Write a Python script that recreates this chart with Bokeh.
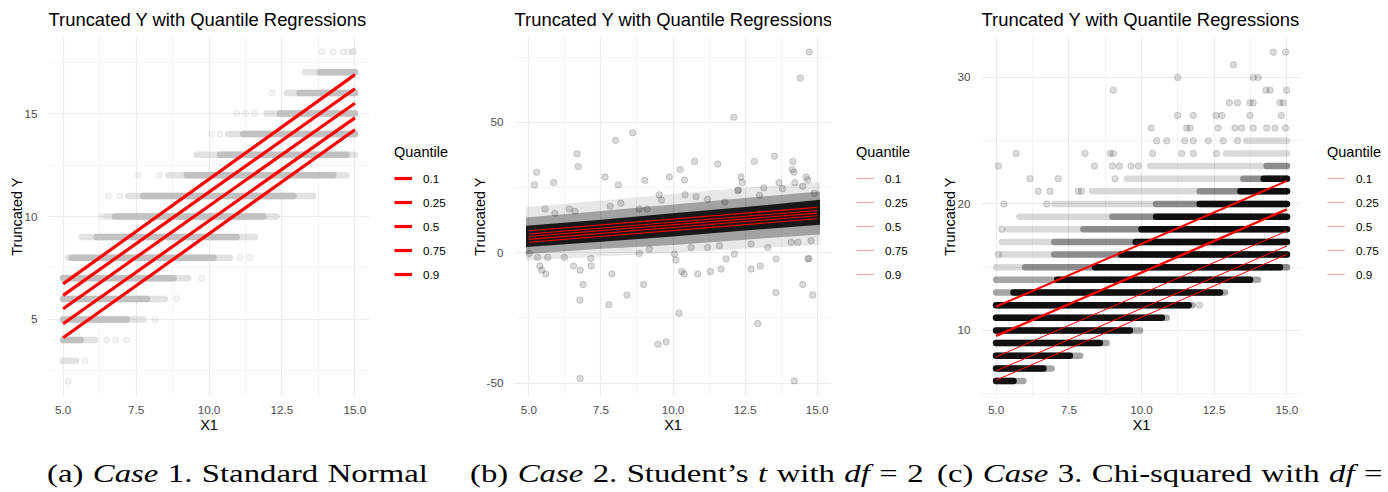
from bokeh.plotting import figure
from bokeh.models import (Range1d, FixedTicker, PrintfTickFormatter, Legend,
                          LegendItem, Div)
from bokeh.layouts import row, column
from bokeh.embed import file_html
from bokeh.resources import INLINE

FONT = "Liberation Sans"
TITLE = "Truncated Y with Quantile Regressions"
QUANTILES = ["0.1", "0.25", "0.5", "0.75", "0.9"]
X_ENDS = [5.0, 15.0]
X_TICKS = [5.0, 7.5, 10.0, 12.5, 15.0]
X_MINOR = [6.25, 8.75, 11.25, 13.75]

# ---------------- Case 1: standard normal errors ----------------
# fitted quantile lines, value at X1 = 5 and X1 = 15
a_q_at5 = [4.11, 4.79, 5.52, 6.17, 6.73]
a_q_at15 = [14.21, 14.79, 15.50, 16.20, 16.89]
# integer-valued Y: extent of the point run on each level (outer) and its dense core
a_level = [17, 16, 15, 14, 13, 12, 11, 10, 9, 8, 7, 6, 5, 4, 3]
a_run_lo = [13.30, 12.66, 11.97, 10.66, 9.58, 8.61, 7.24, 6.50, 5.64, 5.18, 5.00, 5.00, 5.00, 5.00, 5.00]
a_run_hi = [15.00, 15.00, 15.00, 15.00, 15.00, 14.71, 13.57, 12.32, 11.58, 10.72, 9.29, 8.49, 7.75, 6.10, 5.45]
a_core_level = [17, 16, 15, 14, 13, 12, 11, 10, 9, 8, 7, 6, 5, 4]
a_core_lo = [13.80, 13.10, 12.43, 11.17, 10.38, 9.24, 7.75, 6.78, 6.15, 5.30, 5.00, 5.00, 5.00, 5.00]
a_core_hi = [15.00, 15.00, 15.00, 15.00, 14.71, 14.26, 12.89, 11.86, 10.95, 10.15, 8.78, 7.87, 7.18, 5.60]
# isolated observations
a_pt_x = [13.87, 14.25, 14.59, 14.76, 14.93, 14.93, 12.15, 10.95, 11.25, 11.57, 10.09, 10.38,
          7.58, 8.30, 6.55, 6.95, 6.32, 11.06, 11.40, 9.75, 8.89, 8.15, 6.50, 6.80, 7.18, 5.75, 5.18]
a_pt_y = [18, 18, 18, 18, 18, 18, 16, 15, 15, 15, 14, 14,
          12, 12, 11, 11, 10, 8, 8, 7, 6, 5, 4, 4, 4, 3, 2]

# ---------------- Case 2: Student's t (df = 2) errors ----------------
b_q_at5 = [4.0, 5.1, 6.2, 7.2, 8.4]
b_q_at15 = [13.0, 14.2, 15.2, 16.2, 17.4]
# bulk of the cloud around the fitted lines
b_knot_x = [4.9, 7.5, 10.0, 12.5, 15.1]
b_core_lo = [2.2, 4.2, 6.2, 8.5, 10.7]
b_core_hi = [10.3, 12.6, 15.1, 17.5, 20.3]
b_mid_lo = [-0.5, 1.5, 3.0, 5.0, 7.0]
b_mid_hi = [13.5, 16.0, 18.5, 21.0, 23.5]
b_outer_lo = [-3.0, -1.5, 0.0, 1.5, 3.0]
b_outer_hi = [17.5, 20.0, 22.5, 25.0, 27.0]
# heavy-tailed observations away from the bulk
b_pt_x = [14.73, 14.42, 12.11, 8.60, 8.01, 6.67, 6.71, 5.27, 5.19, 5.86, 7.64, 8.10, 9.02,
          9.87, 10.25, 10.40, 10.75, 11.55, 12.27, 12.36, 12.40, 12.82, 13.15, 13.52, 13.68,
          14.16, 14.14, 14.20, 14.68, 14.23, 14.62, 14.90, 10.42, 9.52, 9.60, 12.25, 7.82,
          8.19, 5.56, 5.90, 6.40, 6.60, 8.83, 9.10, 13.80, 14.50, 13.00, 11.20, 10.80, 11.80,
          5.01, 5.30, 5.65, 5.38, 5.45, 5.59, 6.23, 6.55, 6.78, 6.88, 6.77, 7.16, 7.15, 7.77,
          7.88, 8.40, 8.98, 8.83, 9.18, 9.48, 9.76, 10.21, 10.05, 10.10, 10.30, 10.39, 10.86,
          11.30, 11.67, 11.84, 12.13, 12.71, 13.03, 12.94, 13.57, 13.58, 14.50, 14.85, 14.72,
          14.68, 6.78, 14.21, 11.61, 11.20, 10.63, 12.71, 13.29, 14.10, 14.33, 14.79]
b_pt_y = [77.0, 67.0, 52.0, 46.0, 43.1, 38.0, 33.1, 30.9, 26.0, 26.9, 29.0, 26.0, 27.8,
          29.0, 31.9, 27.9, 35.0, 34.0, 24.1, 29.0, 26.9, 35.0, 24.9, 37.0, 26.9,
          35.0, 31.9, 30.9, 27.9, 26.9, 29.0, 22.8, 22.2, 22.2, 20.2, 23.8, 17.8,
          19.0, 16.8, 15.1, 16.8, 15.9, 16.8, 16.8, 24.5, 25.5, 22.0, 20.5, 21.5, 19.5,
          -0.3, -1.8, -1.8, -5.1, -6.7, -8.2, -1.8, -5.1, -6.7, -12.2, -18.2, -5.1, -2.2, -20.0,
          -8.2, -16.2, -12.2, -0.3, 1.4, -35.1, -34.2, -23.2, -0.5, -2.8, -7.2, -8.2, -8.2,
          -7.3, -6.3, -2.4, -0.5, -6.3, -5.1, -27.2, -15.3, -2.4, -12.2, -16.2, -2.2,
          -2.4, -48.3, -49.2, 2.7, 2.0, 2.0, 3.3, 2.0, 4.0, 4.0, 4.6]

# ---------------- Case 3: chi-squared (df = 3) errors ----------------
c_q_at5 = [6.07, 6.80, 7.91, 9.57, 11.88]
c_q_at15 = [16.02, 16.68, 17.87, 19.58, 21.82]
# sparse part of each level
c_light_level = [15, 16, 17, 18, 19, 20, 21, 22, 23, 24, 25]
c_light_lo = [5.0, 5.2, 5.2, 5.4, 5.8, 7.0, 8.3, 9.5, 10.3, 12.9, 13.6]
c_light_hi = [15.0, 15.0, 15.0, 15.0, 15.0, 15.0, 15.0, 15.0, 15.0, 15.0, 15.0]
# moderately dense part
c_mid_level = [6, 7, 8, 9, 10, 11, 12, 13, 14, 15, 16, 17, 18, 19, 20, 21, 22, 23]
c_mid_lo = [5.0, 5.0, 5.0, 5.0, 5.0, 5.0, 5.0, 5.0, 5.0, 6.0, 7.0, 7.0, 8.0, 9.0, 10.5, 12.0, 13.5, 14.3]
c_mid_hi = [5.94, 6.91, 7.89, 8.80, 9.95, 10.87, 11.75, 12.87, 14.0, 15.0, 15.0, 15.0, 15.0, 15.0, 15.0, 15.0, 15.0, 15.0]
# saturated part
c_dark_level = [6, 7, 8, 9, 10, 11, 12, 13, 14, 15, 16, 17, 18, 19, 20, 21, 22]
c_dark_lo = [5.0, 5.0, 5.0, 5.0, 5.0, 5.0, 5.0, 5.6, 7.1, 8.4, 9.3, 9.8, 10.0, 10.5, 12.0, 13.4, 14.2]
c_dark_hi = [5.60, 6.63, 7.54, 8.57, 9.60, 10.70, 11.62, 12.70, 13.73, 14.76, 15.0, 15.0, 15.0, 15.0, 15.0, 15.0, 15.0]
# isolated observations
c_pt_x = [14.53, 14.95, 13.16, 11.24, 13.84, 14.01, 9.03, 14.28, 14.42, 14.99,
          13.02, 13.30, 13.73, 13.84, 14.76, 14.87, 11.24, 11.78, 12.56, 12.76, 13.73, 14.80,
          10.33, 11.55, 11.67, 12.64, 13.21, 13.44, 13.84, 14.30, 14.59, 14.95,
          10.52, 10.87, 11.49, 11.78, 12.30, 12.81, 13.30,
          5.69, 8.06, 8.92, 9.03, 10.38, 11.38, 11.78, 12.58,
          5.08, 8.38, 9.00, 9.24, 9.64, 9.89, 6.17, 7.14, 9.09,
          6.45, 6.86, 7.83, 7.94, 5.27, 6.74, 11.99, 5.08, 5.20]
c_pt_y = [32, 32, 31, 30, 30, 30, 29, 29, 29, 29,
          28, 28, 28, 28, 28, 28, 27, 27, 27, 27, 27, 27,
          26, 26, 26, 26, 26, 26, 26, 26, 26, 26,
          25, 25, 25, 25, 25, 25, 25,
          24, 24, 24, 24, 24, 24, 24, 24,
          23, 23, 23, 23, 23, 23, 22, 22, 22,
          21, 21, 21, 21, 20, 20, 12, 16, 18]

CAPTIONS = ["(a) <i>Case</i> 1. Standard Normal",
            "(b) <i>Case</i> 2. Student\u2019s <i>t</i> with <i>df</i> = 2",
            "(c) <i>Case</i> 3. Chi-squared with <i>df</i> = 3"]
CAPTION_LEFT = [47, 470, 937]

DOT = 6.5
FIG_H = 440


def base_panel(y_lo, y_hi, y_ticks, y_minor, left, frame_w):
    p = figure(width=left + frame_w, height=FIG_H,
               min_border_left=left, min_border_right=0,
               min_border_top=36, min_border_bottom=44,
               x_range=Range1d(4.5, 15.5), y_range=Range1d(y_lo, y_hi),
               output_backend="svg", toolbar_location=None, title=TITLE)
    p.outline_line_color = None
    p.background_fill_color = "white"
    p.border_fill_color = "white"
    p.title.text_font = FONT
    p.title.text_font_size = "18.4px"
    p.title.text_font_style = "normal"
    p.title.text_color = "black"
    p.title.align = "left"
    p.title.standoff = 13

    p.xaxis.ticker = FixedTicker(ticks=X_TICKS, minor_ticks=X_MINOR)
    p.xaxis.formatter = PrintfTickFormatter(format="%.1f")
    p.yaxis.ticker = FixedTicker(ticks=y_ticks, minor_ticks=y_minor)
    p.yaxis.formatter = PrintfTickFormatter(format="%d")
    p.xaxis.axis_label = "X1"
    p.yaxis.axis_label = "Truncated Y"
    for ax in (p.xaxis, p.yaxis):
        ax.axis_line_color = None
        ax.major_tick_line_color = None
        ax.minor_tick_line_color = None
        ax.major_label_text_font = FONT
        ax.major_label_text_font_size = "11.7px"
        ax.major_label_text_color = "#4D4D4D"
        ax.axis_label_text_font = FONT
        ax.axis_label_text_font_size = "14.5px"
        ax.axis_label_text_font_style = "normal"
        ax.axis_label_text_color = "black"
    p.xaxis.major_label_standoff = 3
    p.yaxis.major_label_standoff = 5
    p.xaxis.axis_label_standoff = 0
    p.yaxis.axis_label_standoff = -4
    for g in (p.xgrid, p.ygrid):
        g.grid_line_color = "#EBEBEB"
        g.grid_line_width = 1.2
        g.minor_grid_line_color = "#F3F3F3"
        g.minor_grid_line_width = 1
    return p


def legend_panel(width, key_width, key_alpha, vx):
    """Narrow canvas to the right of a panel that carries its colour key."""
    lf = figure(width=width, height=FIG_H, min_border=0,
                x_range=Range1d(0, 1), y_range=Range1d(0, 1),
                x_axis_location=None, y_axis_location=None,
                output_backend="svg", toolbar_location=None)
    lf.outline_line_color = None
    lf.background_fill_color = "white"
    lf.border_fill_color = "white"
    lf.xgrid.visible = False
    lf.ygrid.visible = False
    # key glyphs live outside the visible range; only their legend swatches show
    keys = [lf.line([-3, -2], [-3, -3], line_color="#FF0000", line_width=key_width,
                    line_alpha=key_alpha) for _ in QUANTILES]
    items = [LegendItem(label=q, renderers=[r]) for q, r in zip(QUANTILES, keys)]
    lg = Legend(items=items, location=(vx, 112), title="Quantile",
                padding=0, margin=0, spacing=4,
                label_height=20, glyph_height=20, glyph_width=18, label_standoff=11,
                border_line_alpha=0, background_fill_alpha=0,
                label_text_font=FONT, label_text_font_size="11.7px",
                label_text_color="black",
                title_text_font=FONT, title_text_font_size="14.5px",
                title_text_font_style="normal", title_text_color="black",
                title_standoff=8)
    lf.add_layout(lg)
    return lf


# ---- panel (a)
pa = base_panel(1.26, 18.74, [5, 10, 15], [2.5, 7.5, 12.5, 17.5], 48, 321)
pa.segment(x0=a_run_lo, y0=a_level, x1=a_run_hi, y1=a_level, line_color="#BEBEBE",
           line_alpha=0.45, line_width=DOT, line_cap="round")
pa.segment(x0=a_core_lo, y0=a_core_level, x1=a_core_hi, y1=a_core_level, line_color="#BEBEBE",
           line_alpha=0.9, line_width=DOT, line_cap="round")
pa.scatter(a_pt_x, a_pt_y, size=DOT, color="#BEBEBE", alpha=0.2)
for s, e in zip(a_q_at5, a_q_at15):
    pa.line(X_ENDS, [s, e], line_color="#FF0000", line_width=3.2)
la = legend_panel(91, 3.2, 1.0, 25)

# ---- panel (b)
pb = base_panel(-55.17, 82.95, [-50, 0, 50], [-25, 25, 75], 54, 317)
pb.varea(x=b_knot_x, y1=b_outer_lo, y2=b_outer_hi, fill_color="black", fill_alpha=0.09)
pb.varea(x=b_knot_x, y1=b_mid_lo, y2=b_mid_hi, fill_color="black", fill_alpha=0.3)
pb.varea(x=b_knot_x, y1=b_core_lo, y2=b_core_hi, fill_color="black", fill_alpha=0.85)
pb.scatter(b_pt_x, b_pt_y, size=DOT, color="black", alpha=0.15)
for s, e in zip(b_q_at5, b_q_at15):
    pb.line(X_ENDS, [s, e], line_color="#FF0000", line_width=1.1, line_alpha=0.95)
lb = legend_panel(99, 1.2, 0.35, 25)

# ---- panel (c)
pc = base_panel(4.78, 33.24, [10, 20, 30], [5, 15, 25], 51, 320)
pc.segment(x0=c_light_lo, y0=c_light_level, x1=c_light_hi, y1=c_light_level, line_color="black",
           line_alpha=0.15, line_width=DOT, line_cap="round")
pc.segment(x0=c_mid_lo, y0=c_mid_level, x1=c_mid_hi, y1=c_mid_level, line_color="black",
           line_alpha=0.35, line_width=DOT, line_cap="round")
pc.segment(x0=c_dark_lo, y0=c_dark_level, x1=c_dark_hi, y1=c_dark_level, line_color="black",
           line_alpha=0.9, line_width=DOT, line_cap="round")
pc.scatter(c_pt_x, c_pt_y, size=DOT, color="black", alpha=0.14)
c_widths = [1.0, 1.0, 1.0, 2.4, 2.0]
for s, e, w in zip(c_q_at5, c_q_at15, c_widths):
    pc.line(X_ENDS, [s, e], line_color="#FF0000", line_width=w)
lc = legend_panel(87, 1.2, 0.35, 26)

# ---- sub-figure captions
spans = "".join(
    f'<span style="position:absolute;left:{x}px;top:20px;white-space:nowrap;'
    f'transform:scaleX(1.26);transform-origin:0 0;">{t}</span>'
    for t, x in zip(CAPTIONS, CAPTION_LEFT))
caption_html = ('<div style="position:relative;width:1388px;height:52px;overflow:hidden;'
                'font-family:\'Liberation Serif\',serif;font-size:26px;letter-spacing:0px;'
                'word-spacing:1px;color:#000;line-height:1.1;background:white;">'
                + spans + '</div>')
captions = Div(text=caption_html, width=1388, height=52, margin=0)

layout = column(row(pa, la, pb, lb, pc, lc, spacing=0), captions, spacing=0)
open("out.html", "w").write(file_html(layout, INLINE))
